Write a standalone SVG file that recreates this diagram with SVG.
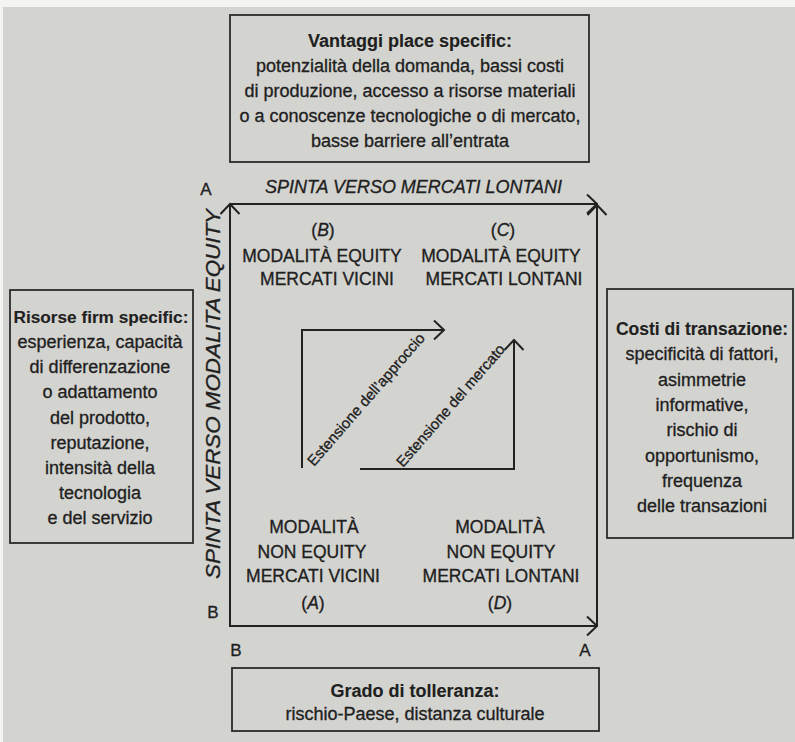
<svg xmlns="http://www.w3.org/2000/svg" width="795" height="742" viewBox="0 0 795 742">
<style>
.t{font-family:"Liberation Sans",Arial,sans-serif;font-size:18px;fill:#202020;stroke:#202020;stroke-width:0.3;text-anchor:middle}
.b{font-weight:bold;stroke-width:0.1}
.q{font-size:17.5px}
.ax{font-style:italic}
.lbl{font-size:17px}
.diag{font-size:15px;text-anchor:start}
.box{fill:none;stroke:#2a2a2a;stroke-width:1.8}
.ln{fill:none;stroke:#222;stroke-width:2}
</style>
<defs>
<marker id="chev" viewBox="-12 -12 14 24" refX="0" refY="0" markerWidth="14" markerHeight="24" orient="auto" markerUnits="userSpaceOnUse">
<path d="M-10,-9.5 L0,0 L-10,9.5" fill="none" stroke="#222" stroke-width="2"/>
</marker>
</defs>
<rect x="0" y="0" width="795" height="742" fill="#f4f4f2"/>
<rect x="3" y="7" width="792" height="735" fill="#d3d3cf"/>

<g id="box-place">
<rect class="box" x="230" y="15" width="359" height="147"/>
<text class="t b" x="410" y="47">Vantaggi place specific:</text>
<text class="t" x="410" y="72">potenzialità della domanda, bassi costi</text>
<text class="t" x="410" y="97">di produzione, accesso a risorse materiali</text>
<text class="t" x="410" y="122">o a conoscenze tecnologiche o di mercato,</text>
<text class="t" x="410" y="147">basse barriere all’entrata</text>
</g>

<g id="box-firm">
<rect class="box" x="10" y="290" width="183" height="253"/>
<text class="t b" x="101" y="323" style="font-size:17.2px">Risorse firm specific:</text>
<text class="t" x="100" y="348">esperienza, capacità</text>
<text class="t" x="100" y="373">di differenzazione</text>
<text class="t" x="100" y="398">o adattamento</text>
<text class="t" x="100" y="424">del prodotto,</text>
<text class="t" x="100" y="449">reputazione,</text>
<text class="t" x="100" y="474">intensità della</text>
<text class="t" x="100" y="499">tecnologia</text>
<text class="t" x="100" y="524">e del servizio</text>
</g>

<g id="box-trans">
<rect class="box" x="607" y="289" width="186" height="249"/>
<text class="t b" x="702" y="335" style="font-size:17.5px">Costi di transazione:</text>
<text class="t" x="702" y="360">specificità di fattori,</text>
<text class="t" x="702" y="386">asimmetrie</text>
<text class="t" x="702" y="411">informative,</text>
<text class="t" x="702" y="436">rischio di</text>
<text class="t" x="702" y="462">opportunismo,</text>
<text class="t" x="702" y="487">frequenza</text>
<text class="t" x="702" y="512">delle transazioni</text>
</g>

<g id="box-grado">
<rect class="box" x="232" y="668" width="367" height="63"/>
<text class="t b" x="415" y="697">Grado di tolleranza:</text>
<text class="t" x="415" y="720">rischio-Paese, distanza culturale</text>
</g>

<g id="connectors">
<path class="ln" d="M230,627 L230,204" marker-end="url(#chev)"/>
<path class="ln" d="M230,204 L597,204" marker-end="url(#chev)"/>
<path class="ln" d="M597,626 L597,205" marker-end="url(#chev)"/>
<path class="ln" d="M230,626 L597,626" marker-end="url(#chev)"/>
<path class="ln" d="M302,468 L302,330 L444,330" marker-end="url(#chev)"/>
<path class="ln" d="M360,469 L514,469 L514,340" marker-end="url(#chev)"/>
</g>

<g id="axis-labels">
<text class="t ax" x="413.5" y="193" textLength="297" lengthAdjust="spacingAndGlyphs">SPINTA VERSO MERCATI LONTANI</text>
<text class="t ax" x="220" y="394" textLength="370" lengthAdjust="spacingAndGlyphs" transform="rotate(-90 220 394)" style="font-size:21px">SPINTA VERSO MODALITA EQUITY</text>
<text class="t lbl" x="206" y="195">A</text>
<text class="t lbl" x="213" y="618">B</text>
<text class="t lbl" x="236" y="656">B</text>
<text class="t lbl" x="585" y="656">A</text>
</g>

<g id="quadrant-B">
<text class="t q" x="323" y="236">(<tspan class="ax">B</tspan>)</text>
<text class="t q" x="322" y="262">MODALITÀ EQUITY</text>
<text class="t q" x="327" y="285">MERCATI VICINI</text>
</g>
<g id="quadrant-C">
<text class="t q" x="503" y="236">(<tspan class="ax">C</tspan>)</text>
<text class="t q" x="501" y="262">MODALITÀ EQUITY</text>
<text class="t q" x="504" y="285">MERCATI LONTANI</text>
</g>
<g id="quadrant-A">
<text class="t q" x="314" y="533">MODALITÀ</text>
<text class="t q" x="312" y="558">NON EQUITY</text>
<text class="t q" x="313" y="582">MERCATI VICINI</text>
<text class="t q" x="313" y="609">(<tspan class="ax">A</tspan>)</text>
</g>
<g id="quadrant-D">
<text class="t q" x="500" y="533">MODALITÀ</text>
<text class="t q" x="501" y="558">NON EQUITY</text>
<text class="t q" x="501" y="582">MERCATI LONTANI</text>
<text class="t q" x="500" y="609">(<tspan class="ax">D</tspan>)</text>
</g>

<g id="arrow-labels">
<text class="t diag" x="314" y="467" transform="rotate(-49 314 467)">Estensione dell’approccio</text>
<text class="t diag" x="403" y="468" transform="rotate(-49 403 468)">Estensione del mercato</text>
</g>
</svg>
